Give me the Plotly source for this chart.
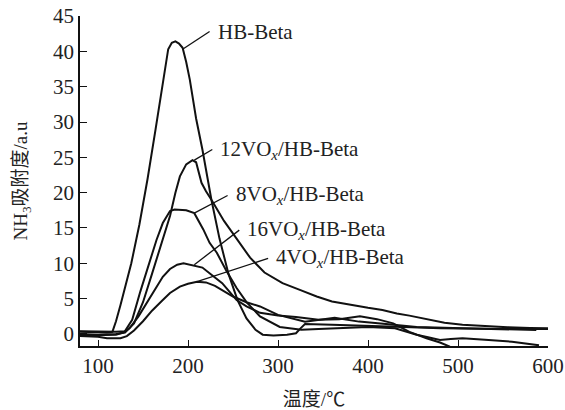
import plotly.graph_objects as go

# ---- data ----
hb_x = [80, 95, 110, 116, 120, 125, 131, 137, 146, 155, 164, 173, 178, 182, 186, 190, 194, 198, 202, 209, 216, 226, 235, 245, 255, 265, 275, 283, 295, 310, 320, 325, 330, 360, 400, 440, 480, 520, 560, 600]
hb_y = [0.3, 0.2, 0.2, 0.3, 1.8, 4.1, 7.0, 10.0, 15.5, 21.9, 29.0, 36.0, 40.3, 41.2, 41.4, 41.1, 40.5, 38.5, 36.0, 30.5, 26.1, 19.0, 13.5, 8.5, 4.8, 2.2, 0.6, -0.1, -0.2, -0.1, 0.1, 0.8, 1.4, 1.3, 1.2, 1.0, 0.8, 0.7, 0.7, 0.7]

v12_x = [80, 100, 120, 130, 140, 150, 160, 170, 180, 186, 191, 198, 205, 209, 212, 215, 220, 226, 240, 254, 269, 285, 305, 325, 343, 360, 380, 400, 416, 432, 446, 465, 485, 505, 530, 555, 580, 600]
v12_y = [0.0, -0.1, 0.0, 0.2, 1.5, 4.5, 8.5, 12.5, 16.7, 20.0, 22.3, 24.0, 24.6, 24.3, 23.0, 21.4, 20.2, 19.0, 16.0, 13.4, 10.8, 8.7, 7.2, 6.2, 5.3, 4.6, 4.1, 3.7, 3.4, 2.9, 2.6, 2.1, 1.6, 1.3, 1.1, 0.95, 0.85, 0.8]

v8_x = [80, 100, 120, 130, 138, 147, 157, 165, 172, 180, 185, 190, 198, 207, 217, 224, 232, 242, 254, 265, 280, 302, 326, 345, 368, 400, 430, 454, 468, 480, 492, 505, 530, 560, 590]
v8_y = [0.4, 0.3, 0.3, 0.4, 2.0, 6.0, 10.0, 13.3, 15.7, 17.4, 17.6, 17.6, 17.5, 17.1, 14.8, 12.9, 11.5, 9.1, 6.5, 4.5, 2.5, 1.0, 0.6, 0.7, 0.8, 1.0, 0.8, -0.1, -0.5, -0.85, -0.7, -0.6, -0.8, -1.1, -1.6]

v16_x = [80, 100, 120, 128, 135, 145, 154, 163, 172, 180, 188, 195, 202, 210, 216, 225, 238, 246, 254, 265, 280, 300, 320, 345, 368, 391, 410, 428, 446, 465, 480, 491]
v16_y = [-0.2, -0.2, -0.1, 0.2, 0.8, 2.5, 4.4, 6.3, 8.1, 9.2, 9.8, 10.0, 9.8, 9.6, 9.4, 8.5, 7.2, 6.0, 4.8, 3.9, 3.0, 2.6, 2.4, 2.0, 2.1, 2.5, 2.1, 1.5, 0.3, -0.6, -1.2, -1.8]

v4_x = [80, 100, 110, 125, 132, 140, 150, 160, 172, 180, 191, 200, 210, 220, 230, 240, 250, 265, 280, 300, 330, 363, 390, 420, 454, 505, 545, 587]
v4_y = [-0.3, -0.4, -0.6, -0.6, -0.3, 0.5, 1.8, 3.3, 4.8, 5.8, 6.7, 7.1, 7.4, 7.3, 6.8, 6.1, 5.3, 4.5, 3.9, 2.7, 1.75, 2.3, 1.75, 1.4, 1.0, 0.8, 0.7, 0.57]

series = [
    ("HB-Beta", hb_x, hb_y),
    ("12VOx/HB-Beta", v12_x, v12_y),
    ("8VOx/HB-Beta", v8_x, v8_y),
    ("16VOx/HB-Beta", v16_x, v16_y),
    ("4VOx/HB-Beta", v4_x, v4_y),
]

# label text, leader start (on curve), leader end / text anchor
labels = [
    ("HB-Beta", (194, 40.3), (224, 42.8)),
    ("12VO<sub><i>x</i></sub>/HB-Beta", (207, 24.6), (227, 26.1)),
    ("8VO<sub><i>x</i></sub>/HB-Beta", (207, 17.1), (244, 19.6)),
    ("16VO<sub><i>x</i></sub>/HB-Beta", (207, 9.8), (257, 14.7)),
    ("4VO<sub><i>x</i></sub>/HB-Beta", (210, 7.4), (289, 10.7)),
]

FONT = "Liberation Serif, Times New Roman, Noto Sans CJK SC, serif"

fig = go.Figure()
for name, xs, ys in series:
    fig.add_trace(go.Scatter(x=xs, y=ys, mode="lines", name=name,
                             line=dict(color="#111111", width=2),
                             showlegend=False))

for text, (x0, y0), (x1, y1) in labels:
    fig.add_shape(type="line", x0=x0, y0=y0, x1=x1, y1=y1, xref="x", yref="y",
                  line=dict(color="#111111", width=1.3))
    fig.add_annotation(x=x1, y=y1, xref="x", yref="y", text=text,
                       showarrow=False, xanchor="left", yanchor="middle",
                       xshift=6, font=dict(family=FONT, size=21, color="#222222"))

fig.update_xaxes(range=[80, 600], tickvals=[100, 200, 300, 400, 500, 600],
                 ticks="inside", ticklen=6, tickwidth=1.3, tickcolor="#111111",
                 showline=True, linecolor="#111111", linewidth=1.5,
                 showgrid=False, zeroline=False, automargin=False,
                 tickfont=dict(family=FONT, size=21, color="#222222"),
                 title=dict(text="温度/℃", font=dict(family=FONT, size=19, color="#222222"),
                            standoff=20))
fig.update_yaxes(range=[-1.7, 45], tickvals=[0, 5, 10, 15, 20, 25, 30, 35, 40, 45],
                 ticks="inside", ticklen=7, tickwidth=1.3, tickcolor="#111111",
                 showline=True, linecolor="#111111", linewidth=1.5,
                 showgrid=False, zeroline=False, automargin=False,
                 tickfont=dict(family=FONT, size=21, color="#222222"),
                 title=dict(text="NH<sub>3</sub>吸附度/a.u", font=dict(family=FONT, size=19, color="#222222"),
                            standoff=20))

fig.update_layout(width=565, height=410, margin=dict(l=80, r=17, t=16, b=64),
                  plot_bgcolor="white", paper_bgcolor="white")

fig.write_html("out.html")
